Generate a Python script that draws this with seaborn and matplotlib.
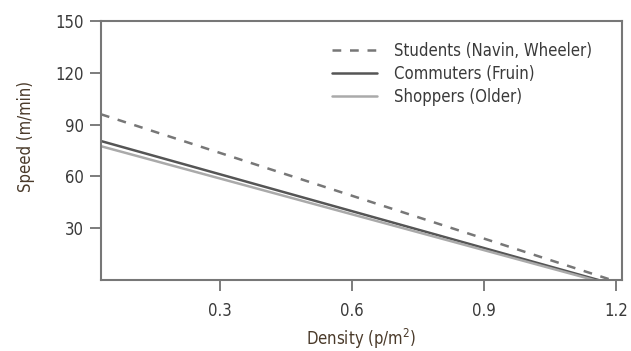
import pandas as pd
import numpy as np
import matplotlib.pyplot as plt
import seaborn as sns

# values (density in p/m2, speed in m/min)
groups = ['Students (Navin, Wheeler)', 'Commuters (Fruin)', 'Shoppers (Older)']
students_density = [0.03, 1.19]
students_speed = [96, 0]
commuters_density = [0.03, 1.16]
commuters_speed = [80.5, 0]
shoppers_density = [0.03, 1.15]
shoppers_speed = [77.5, 0]

data = pd.DataFrame({
    'Density': students_density + commuters_density + shoppers_density,
    'Speed': students_speed + commuters_speed + shoppers_speed,
    'Group': [groups[0]] * 2 + [groups[1]] * 2 + [groups[2]] * 2,
})

sns.set_style('white')
plt.rcParams['font.family'] = ['DejaVu Sans']
plt.rcParams['font.stretch'] = 'condensed'
text_col = '#3a3a3a'

fig = plt.figure(figsize=(6.31, 3.51), dpi=100)
ax = fig.add_axes([0.16, 0.2023, 0.826, 0.7377])
sns.lineplot(data=data, x='Density', y='Speed', hue='Group', style='Group',
             palette={groups[0]: '#777777', groups[1]: '#555555', groups[2]: '#aaaaaa'},
             dashes={groups[0]: (3.5, 3.5), groups[1]: '', groups[2]: ''},
             linewidth=1.8, ax=ax)

ax.set_xlim(0.03, 1.214)
ax.set_ylim(0, 150)
ax.set_xticks([0.3, 0.6, 0.9, 1.2])
ax.set_yticks([30, 60, 90, 120, 150])
ax.set_xticklabels(['0.3', '0.6', '0.9', '1.2'])
ax.tick_params(axis='both', bottom=True, left=True, length=8, width=1.2, color='#666666',
               labelsize=12, labelcolor=text_col, direction='out', pad=4)
ax.tick_params(axis='x', pad=8)
for s in ax.spines.values():
    s.set_color('#777777')
    s.set_linewidth(1.5)

ax.set_xlabel('Density (p/m$^2$)', fontsize=12, color='#4a3a2a', labelpad=5)
ax.set_ylabel('Speed (m/min)', fontsize=12, color='#4a3a2a')
ax.yaxis.set_label_coords(-0.127, 0.556)

leg = ax.legend(loc='upper right', frameon=False, fontsize=12, handlelength=2.7,
                handletextpad=1.0, labelspacing=0.3, borderaxespad=0.3,
                bbox_to_anchor=(0.965, 0.965))
for t in leg.get_texts():
    t.set_color(text_col)

fig.savefig('out.png', dpi=100)
